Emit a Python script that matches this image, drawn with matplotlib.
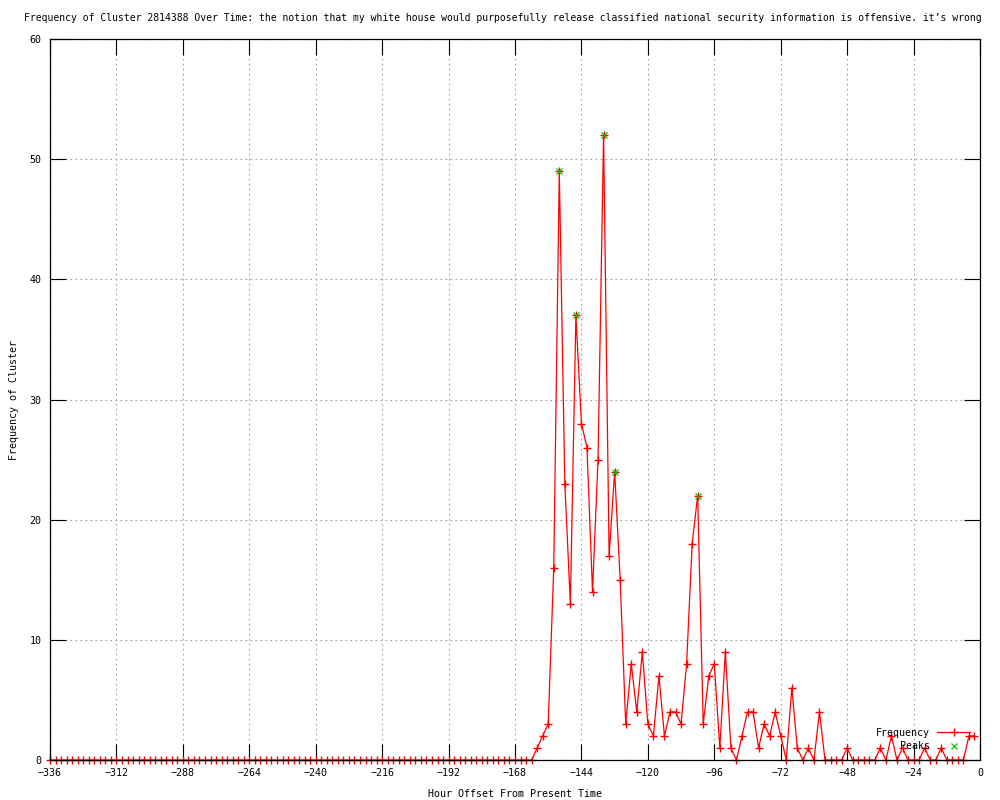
import numpy as np
import matplotlib
matplotlib.use('Agg')
import matplotlib.pyplot as plt
from matplotlib.lines import Line2D

plt.rcParams['font.family'] = ['DejaVu Sans Mono']
FS = 7.2

# hourly counts, every 2 hours from -336 to -2
hours = list(range(-336, 0, 2))
freq = [0] * 88 + [
    1, 2, 3, 16, 49, 23, 13, 37, 28, 26,
    14, 25, 52, 17, 24, 15, 3, 8, 4, 9,
    3, 2, 7, 2, 4, 4, 3, 8, 18, 22,
    3, 7, 8, 1, 9, 1, 0, 2, 4, 4,
    1, 3, 2, 4, 2, 0, 6, 1, 0, 1,
    0, 4, 0, 0, 0, 0, 1, 0, 0, 0,
    0, 0, 1, 0, 2, 0, 1, 0, 0, 0,
    1, 0, 0, 1, 0, 0, 0, 0, 2, 2,
]
peak_hours = [-152, -146, -136, -132, -102]
peak_vals = [49, 37, 52, 24, 22]

xticks = list(range(-336, 1, 24))
yticks = list(range(0, 61, 10))

title = ('Frequency of Cluster 2814388 Over Time: the notion that my white house would '
         'purposefully release classified national security information is offensive. '
         'it\u2019s wrong')

fig = plt.figure(figsize=(10, 8), dpi=100)
ax = fig.add_axes([0.05, 0.05, 0.93, 0.95125 - 0.05])

ax.plot(hours, freq, color='red', lw=0.9, marker='+', markersize=6,
        markeredgewidth=1.0, clip_on=False, zorder=2)
ax.plot(peak_hours, peak_vals, color='#00c000', lw=0, marker='x', markersize=5,
        markeredgewidth=0.9, clip_on=False, zorder=3)

ax.set_xlim(-336, 0)
ax.set_ylim(0, 60)
ax.set_xticks(xticks)
ax.set_yticks(yticks)
ax.tick_params(direction='in', length=11.5, width=0.8, top=True, right=True,
               labelsize=FS, pad=6)
ax.grid(True, color='#a0a0a0', linestyle=(0, (1.5, 3)), linewidth=0.8)
for s in ax.spines.values():
    s.set_linewidth(0.9)
    s.set_zorder(4)

ax.set_xlabel('Hour Offset From Present Time', fontsize=FS, labelpad=8)
ax.set_ylabel('Frequency of Cluster', fontsize=FS, labelpad=8)
fig.text(0.024, 1 - 18 / 800, title, fontsize=7.05, ha='left', va='center')

handles = [Line2D([], [], color='red', lw=0.9, marker='+', markersize=6, markeredgewidth=1.0),
           Line2D([], [], color='#00c000', lw=0, marker='x', markersize=5, markeredgewidth=0.9)]
ax.legend(handles, ['Frequency', 'Peaks'], loc='lower right',
          bbox_to_anchor=(0.995, 0.005), frameon=False, markerfirst=False,
          fontsize=FS, handlelength=3.3, handletextpad=0.7, borderpad=0,
          labelspacing=0.35, numpoints=1)

fig.savefig('out.png', dpi=100)
